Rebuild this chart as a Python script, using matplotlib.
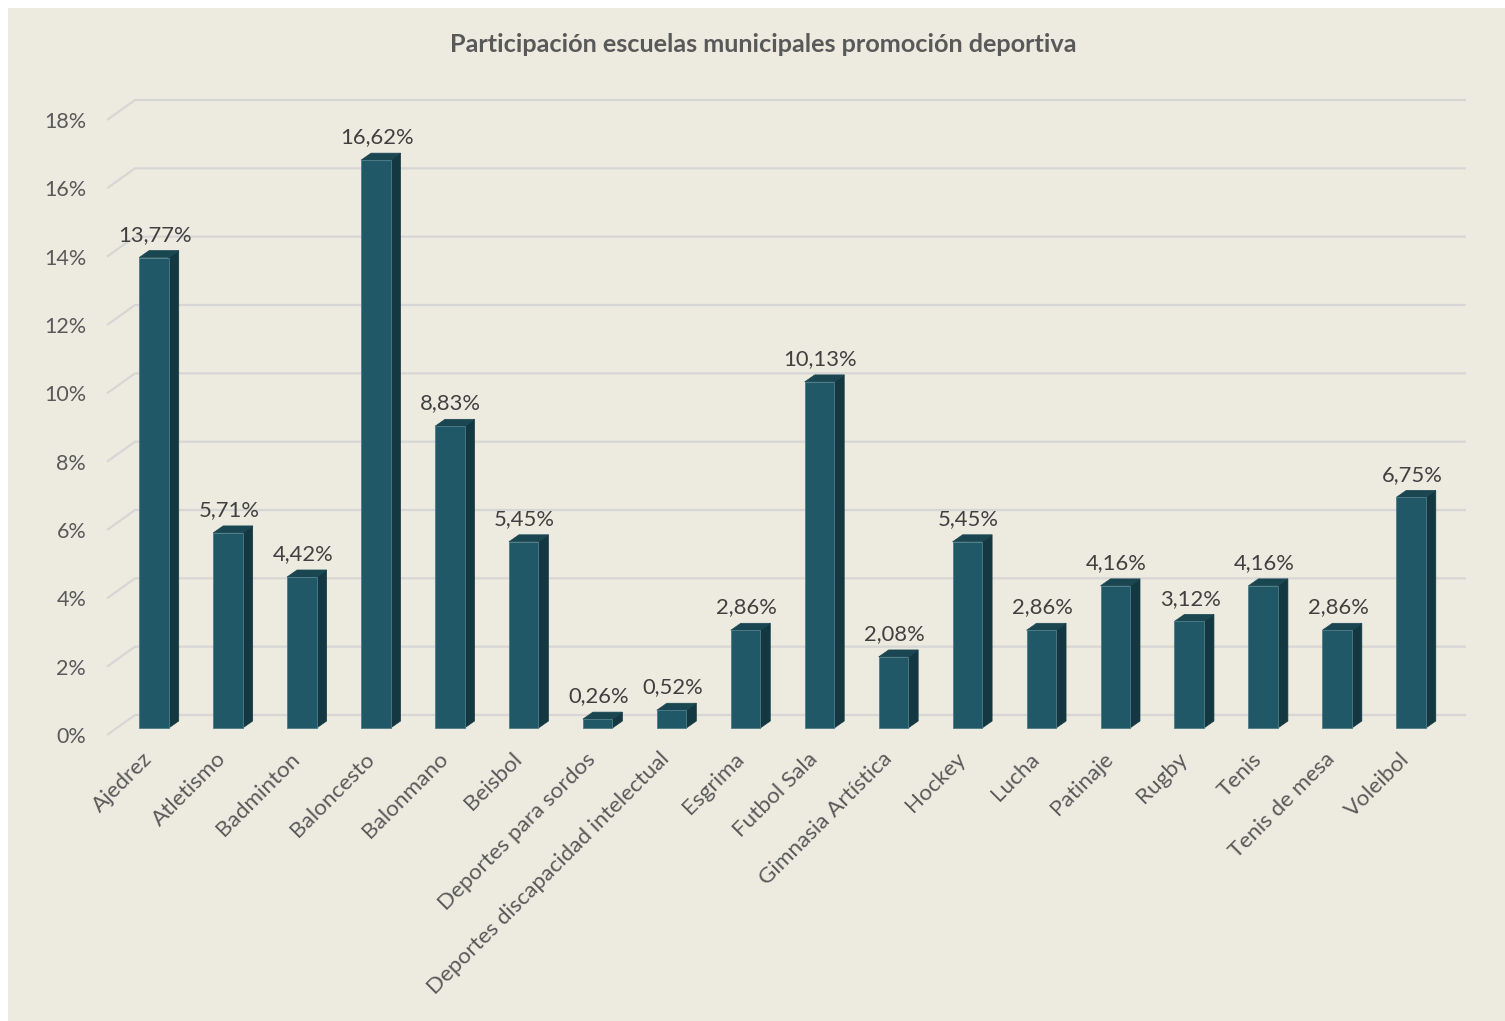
import matplotlib
matplotlib.use("Agg")
import matplotlib.pyplot as plt
from matplotlib.patches import Polygon, Rectangle
from matplotlib.transforms import ScaledTranslation

# ---------------- data ----------------
categories = ["Ajedrez", "Atletismo", "Badminton", "Baloncesto", "Balonmano", "Beisbol",
              "Deportes para sordos", "Deportes discapacidad intelectual", "Esgrima",
              "Futbol Sala", "Gimnasia Artística", "Hockey", "Lucha", "Patinaje",
              "Rugby", "Tenis", "Tenis de mesa", "Voleibol"]
values = [13.77, 5.71, 4.42, 16.62, 8.83, 5.45, 0.26, 0.52, 2.86,
          10.13, 2.08, 5.45, 2.86, 4.16, 3.12, 4.16, 2.86, 6.75]
yticks = [0, 2, 4, 6, 8, 10, 12, 14, 16, 18]
ytick_labels = [f"{t}%" for t in yticks]
title = "Participación escuelas municipales promoción deportiva"

# ---------------- style ----------------
FONT = "Lato"
BG = "#EDEBE0"
FRONT = "#215867"
SIDE = "#143842"
TOP = "#1A4651"
GRID = "#D6D6D4"
W, H = 1505, 1021
plt.rcParams["font.family"] = [FONT, "DejaVu Sans"]

fig = plt.figure(figsize=(W / 100, H / 100), dpi=100, facecolor="white")
fig.patches.append(Rectangle((8 / W, 0), 1 - 8 / W, 1 - 8 / H, transform=fig.transFigure,
                             facecolor=BG, edgecolor="none", zorder=-5))

# axes: front plane of the 3-D box
ax_l, ax_r, ax_b, ax_t = 107, 1438, 735, 120
ax = fig.add_axes([ax_l / W, (H - ax_b) / H, (ax_r - ax_l) / W, (ax_b - ax_t) / H])
ax.set_facecolor("none")
n = len(categories)
ax.set_xlim(-0.5, n - 0.5)
ax.set_ylim(yticks[0], yticks[-1])
pxx = (ax_r - ax_l) / n            # pixels per category
pxy = (ax_b - ax_t) / yticks[-1]   # pixels per percent

# 3-D offsets (in data units)
off_x, off_y = 10 / pxx, 7 / pxy        # bar set back from front plane
dep_x, dep_y = 10 / pxx, 7 / pxy        # bar depth
wall_x, wall_y = 28 / pxx, 20 / pxy     # back wall
bw = 29.5 / pxx

# back wall gridlines + left wall diagonals
for t in yticks:
    ax.plot([-0.5, -0.5 + wall_x, n - 0.5 + wall_x], [t, t + wall_y, t + wall_y],
            color=GRID, lw=1.6, clip_on=False, zorder=1, solid_capstyle="butt")

# bars
xs = [i + off_x for i in range(n)]
ax.bar(xs, values, width=bw, bottom=off_y, color=FRONT, edgecolor="#4E7C88",
       linewidth=0.6, zorder=3)
for x, v in zip(xs, values):
    x0, x1 = x - bw / 2, x + bw / 2
    b, h = off_y, off_y + v
    ax.add_patch(Polygon([(x1, b), (x1, h), (x1 + dep_x, h + dep_y), (x1 + dep_x, b + dep_y)],
                         closed=True, facecolor=SIDE, edgecolor=SIDE, lw=0.5, zorder=2.9))
    ax.add_patch(Polygon([(x0, h), (x1, h), (x1 + dep_x, h + dep_y), (x0 + dep_x, h + dep_y)],
                         closed=True, facecolor=TOP, edgecolor=TOP, lw=0.5, zorder=2.9))
    lab = f"{v:.2f}%".replace(".", ",")
    ax.annotate(lab, xy=(x + dep_x * 0.1, h + dep_y), xytext=(0, 7), textcoords="offset points",
                ha="center", va="baseline", fontsize=15.8, color="#404040", zorder=5,
                annotation_clip=False)

# y axis labels
ax.set_yticks(yticks)
ax.set_yticklabels(ytick_labels)
ax.tick_params(axis="y", length=0, pad=15, labelsize=15.5, labelcolor="#595959")

# x axis labels
ax.set_xticks(range(n))
ax.set_xticklabels(categories, rotation=45, ha="right", va="top", rotation_mode="anchor")
ax.tick_params(axis="x", length=0, pad=10, labelsize=16.2, labelcolor="#595959")
shift = ScaledTranslation(-2 / 100, 0, fig.dpi_scale_trans)
for lbl in ax.get_xticklabels():
    lbl.set_transform(lbl.get_transform() + shift)

for s in ax.spines.values():
    s.set_visible(False)

fig.text(763 / W, 1 - 45 / H, title, ha="center", va="center", fontsize=18.2,
         fontweight="bold", color="#595959")

fig.savefig("out.png", dpi=100, facecolor="white")
